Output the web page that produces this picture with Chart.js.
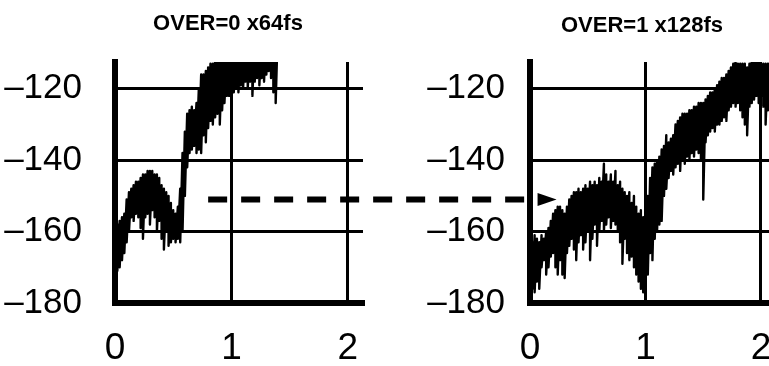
<!DOCTYPE html>
<html><head><meta charset="utf-8">
<script src="https://cdn.jsdelivr.net/npm/chart.js@4.4.1/dist/chart.umd.min.js"></script>
<style>
html,body{margin:0;padding:0;background:#fff;width:769px;height:366px;overflow:hidden;}
#wrap{position:relative;width:769px;height:366px;overflow:hidden;}
canvas{position:absolute;left:0;top:0;}
</style></head><body>
<div id="wrap">
<canvas id="left" width="769" height="366"></canvas>
<canvas id="right" width="800" height="366"></canvas>
</div>
<script>
// ---- data ----
const yTicks = [-180, -160, -140, -120];
const xTicks = [0, 1, 2];
const leftTitle = 'OVER=0 x64fs';
const rightTitle = 'OVER=1 x128fs';

const leftFreq = [0.00,0.02,0.04,0.06,0.08,0.10,0.12,0.14,0.16,0.18,0.20,0.22,0.24,0.26,0.28,0.30,0.32,0.34,0.36,0.38,0.40,0.42,0.44,0.46,0.48,0.50,0.52,0.54,0.56,0.58,0.60,0.62,0.64,0.66,0.68,0.70,0.72,0.74,0.76,0.78,0.80,0.82,0.84,0.86,0.88,0.90,0.92,0.94,0.96,0.98,1.00,1.02,1.04,1.06,1.08,1.10,1.12,1.14,1.16,1.18,1.20,1.22,1.24,1.26,1.28,1.30,1.32,1.34,1.36,1.38,1.40,1.42,1.44];
const leftHigh = [-160,-158,-157,-156,-155,-151,-149,-148,-147,-146,-146,-145,-144,-144,-143,-143,-143,-144,-144,-145,-147,-148,-149,-150,-152,-154,-155,-153,-148,-138,-132,-127,-126,-125,-126,-124,-120,-116,-116,-115,-114,-113,-113,-112,-112,-111,-111,-110,-110,-109,-109,-108,-108,-108,-107,-107,-106,-106,-106,-105,-105,-104,-104,-104,-103,-103,-103,-102,-102,-102,-101,-100,-100];
const leftLow = [-168,-171,-170,-168,-166,-163,-160,-156,-157,-155,-156,-159,-162,-156,-155,-158,-154,-156,-160,-157,-162,-165,-160,-164,-163,-162,-163,-162,-163,-160,-150,-142,-138,-137,-136,-138,-137,-138,-133,-135,-131,-129,-130,-128,-127,-130,-126,-124,-122,-122,-123,-121,-120,-121,-119,-120,-118,-120,-118,-122,-118,-117,-119,-117,-118,-116,-115,-117,-121,-124,-112,-108,-106];

const rightFreq = [0.00,0.02,0.04,0.06,0.08,0.10,0.12,0.14,0.16,0.18,0.20,0.22,0.24,0.26,0.28,0.30,0.32,0.34,0.36,0.38,0.40,0.42,0.44,0.46,0.48,0.50,0.52,0.54,0.56,0.58,0.60,0.62,0.64,0.66,0.68,0.70,0.72,0.74,0.76,0.78,0.80,0.82,0.84,0.86,0.88,0.90,0.92,0.94,0.96,0.98,1.00,1.02,1.04,1.06,1.08,1.10,1.12,1.14,1.16,1.18,1.20,1.22,1.24,1.26,1.28,1.30,1.32,1.34,1.36,1.38,1.40,1.42,1.44,1.46,1.48,1.50,1.52,1.54,1.56,1.58,1.60,1.62,1.64,1.66,1.68,1.70,1.72,1.74,1.76,1.78,1.80,1.82,1.84,1.86,1.88,1.90,1.92,1.94,1.96,1.98,2.00,2.02,2.04,2.06,2.08];
const rightHigh = [-162,-163,-161,-162,-163,-161,-162,-160,-159,-157,-155,-154,-153,-153,-154,-155,-153,-151,-150,-149,-149,-148,-149,-148,-147,-148,-146,-147,-146,-147,-145,-146,-141,-144,-146,-144,-146,-143,-147,-146,-148,-149,-150,-149,-152,-150,-153,-155,-154,-156,-152,-150,-145,-142,-141,-140,-139,-137,-136,-133,-135,-134,-133,-130,-129,-128,-127,-127,-127,-126,-126,-125,-125,-124,-124,-124,-123,-122,-121,-121,-120,-119,-118,-117,-117,-116,-115,-114,-113,-112,-113,-113,-113,-113,-114,-113,-112,-112,-112,-112,-113,-113,-113,-113,-112];
const rightLow = [-172,-176,-177,-174,-176,-170,-168,-172,-170,-167,-166,-170,-172,-168,-172,-173,-166,-164,-162,-165,-168,-163,-161,-165,-163,-160,-168,-162,-158,-164,-160,-157,-160,-158,-156,-159,-157,-158,-160,-163,-169,-162,-166,-168,-167,-170,-172,-174,-176,-177,-172,-172,-166,-168,-162,-160,-158,-157,-150,-148,-145,-143,-144,-142,-141,-143,-140,-141,-139,-140,-138,-139,-137,-138,-140,-151,-135,-133,-132,-131,-132,-130,-130,-129,-128,-129,-126,-125,-124,-125,-124,-126,-128,-130,-133,-125,-124,-123,-122,-124,-122,-125,-130,-126,-124];

// arrow annotation (data units)
const arrowLevel = -151;
const arrowFromFreq = 0.8;   // on left panel
const arrowToFreq = 0.23;    // on right panel

function spectrum(freq, hi, lo) {
  const pts = [];
  for (let i = 0; i < freq.length; i++) {
    pts.push({x: freq[i], y: hi[i]});
    pts.push({x: freq[i], y: lo[i]});
  }
  return pts;
}

const FONT = '"Liberation Sans", Arial, sans-serif';

const panelTitle = {
  id: 'panelTitle',
  afterDraw(chart, args, opts) {
    const {ctx, chartArea} = chart;
    ctx.save();
    ctx.font = 'bold 22px ' + FONT;
    ctx.fillStyle = '#000';
    ctx.textAlign = 'center';
    ctx.textBaseline = 'middle';
    ctx.fillText(opts.text, (chartArea.left + chartArea.right) / 2 + opts.dx, chartArea.top + opts.dy);
    ctx.restore();
  }
};

function makeOptions(title, dy, pad, labelPad) {
  return {
    responsive: false,
    animation: false,
    layout: {padding: pad},
    plugins: {
      legend: {display: false},
      tooltip: {enabled: false},
      panelTitle: {text: title, dx: -11, dy: dy}
    },
    scales: {
      x: {
        type: 'linear', min: 0, max: 2.13,
        afterFit: s => { s.height = 63; },
        afterBuildTicks: s => { s.ticks = xTicks.map(v => ({value: v})); },
        grid: {color: '#000', lineWidth: 3, drawTicks: false},
        border: {color: '#000', width: 6},
        ticks: {color: '#000', padding: 24, font: {size: 37, family: FONT}, callback: v => String(v), maxRotation: 0, autoSkip: false}
      },
      y: {
        type: 'linear', min: -180, max: -112.5,
        afterFit: s => { s.width = 115; },
        afterBuildTicks: s => { s.ticks = yTicks.map(v => ({value: v})); },
        grid: {color: '#000', lineWidth: 3, drawTicks: false},
        border: {color: '#000', width: 6},
        ticks: {color: '#000', padding: labelPad, font: {size: 35, family: FONT}, callback: v => '\u2013' + Math.abs(v), autoSkip: false}
      }
    }
  };
}

const lineStyle = {borderColor: '#000', borderWidth: 2.4, borderJoinStyle: 'round', pointRadius: 0, tension: 0, clip: 0};

const leftChart = new Chart(document.getElementById('left'), {
  type: 'line',
  data: {datasets: [Object.assign({data: spectrum(leftFreq, leftHigh, leftLow)}, lineStyle)]},
  options: makeOptions(leftTitle, -38, {left: 0, right: 406, top: 62, bottom: 0}, 33),
  plugins: [panelTitle]
});

const arrowPlugin = {
  id: 'arrow',
  afterDraw(chart) {
    const ctx = chart.ctx;
    const y = chart.scales.y.getPixelForValue(arrowLevel);
    const x0 = leftChart.scales.x.getPixelForValue(arrowFromFreq);
    const tip = chart.scales.x.getPixelForValue(arrowToFreq);
    const headLen = 19, headHalf = 6.5;
    ctx.save();
    ctx.strokeStyle = '#000';
    ctx.lineWidth = 6;
    ctx.setLineDash([19, 14]);
    ctx.beginPath();
    ctx.moveTo(x0, y);
    ctx.lineTo(tip - headLen - 12, y);
    ctx.stroke();
    ctx.setLineDash([]);
    ctx.fillStyle = '#000';
    ctx.beginPath();
    ctx.moveTo(tip, y);
    ctx.lineTo(tip - headLen, y - headHalf);
    ctx.lineTo(tip - headLen, y + headHalf);
    ctx.closePath();
    ctx.fill();
    ctx.restore();
  }
};

const rightChart = new Chart(document.getElementById('right'), {
  type: 'line',
  data: {datasets: [Object.assign({data: spectrum(rightFreq, rightHigh, rightLow)}, lineStyle)]},
  options: makeOptions(rightTitle, -36, {left: 415, right: 24, top: 62, bottom: 0}, 25),
  plugins: [panelTitle, arrowPlugin]
});
</script>
</body></html>
